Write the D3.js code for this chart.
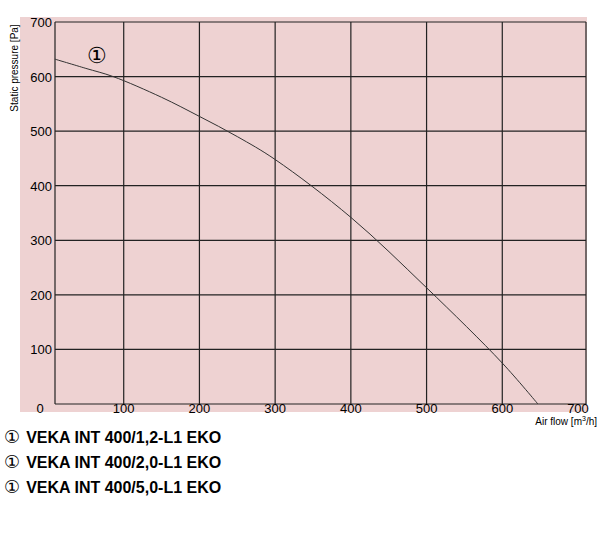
<!DOCTYPE html>
<html><head><meta charset="utf-8">
<script src="https://cdn.jsdelivr.net/npm/d3@7"></script>
<style>body{margin:0;background:#fff;font-family:Arial,"Liberation Sans",sans-serif}</style>
</head><body><svg id="c" width="600" height="536"></svg>
<script>
const xTicks = [0, 100, 200, 300, 400, 500, 600, 700];
const yTicks = [0, 100, 200, 300, 400, 500, 600, 700];
const flow = [9, 50, 86, 150, 200, 250, 300, 400, 500, 600, 647];
const pressure = [632, 615, 600, 562, 527, 490, 448, 342, 213, 75, 0];
const models = ["VEKA INT 400/1,2-L1 EKO", "VEKA INT 400/2,0-L1 EKO", "VEKA INT 400/5,0-L1 EKO"];

const svg = d3.select('#c');
const x = d3.scaleLinear().domain([0, 700]).range([48, 578]);
const y = d3.scaleLinear().domain([0, 700]).range([404, 22]);
const left = 55, right = 586;

svg.append('rect').attr('x', 20).attr('y', 17).attr('width', 567).attr('height', 395).attr('fill', '#eed2d2');

// grid
xTicks.filter(d => d > 0 && d < 700).forEach(d => {
    svg.append('line').attr('x1', x(d)).attr('x2', x(d)).attr('y1', y(700)).attr('y2', y(0))
        .attr('stroke', '#222').attr('stroke-width', 1.2);
});
yTicks.forEach(d => {
    svg.append('line').attr('x1', left).attr('x2', right).attr('y1', y(d)).attr('y2', y(d))
        .attr('stroke', '#222').attr('stroke-width', 1.2);
});
[left, right].forEach(px => {
    svg.append('line').attr('x1', px).attr('x2', px).attr('y1', y(700)).attr('y2', y(0)).attr('stroke', '#222').attr('stroke-width', 1.2);
});

// tick labels
yTicks.filter(d => d > 0).forEach(d => {
    svg.append('text').attr('x', 52).attr('y', y(d) + 5).attr('text-anchor', 'end')
        .attr('font-size', 13).text(d);
});
xTicks.forEach(d => {
    svg.append('text').attr('x', d == 0 ? 40 : x(d)).attr('y', 413).attr('text-anchor', 'middle')
        .attr('font-size', 13).text(d);
});
svg.append('text').attr('x', 597).attr('y', 425).attr('text-anchor', 'end').attr('font-size', 10)
    .html('Air flow [m<tspan dy="-4" font-size="7">3</tspan><tspan dy="4">/h]</tspan>');
svg.append('text').attr('transform', 'translate(18,68) rotate(-90)').attr('text-anchor', 'middle')
    .attr('font-size', 10).text('Static pressure [Pa]');

// curve
svg.append('path').datum(flow.map((f, i) => [f, pressure[i]]))
    .attr('d', d3.line().x(d => x(d[0])).y(d => y(d[1])).curve(d3.curveCatmullRom))
    .attr('fill', 'none').attr('stroke', '#333').attr('stroke-width', 1);
svg.append('text').attr('x', 97).attr('y', 63).attr('text-anchor', 'middle').attr('font-size', 22)
    .attr('font-family', 'DejaVu Sans').attr('font-weight', 'lighter').text('①');

// legend
models.forEach((m, i) => {
    const t = svg.append('text').attr('x', 4).attr('y', 443 + i * 25).attr('font-size', 16);
    t.append('tspan').attr('font-family', 'DejaVu Sans').attr('font-size', 18).text('①');
    t.append('tspan').attr('font-weight', 'bold').attr('dx', 6).text(m);
});
</script></body></html>
